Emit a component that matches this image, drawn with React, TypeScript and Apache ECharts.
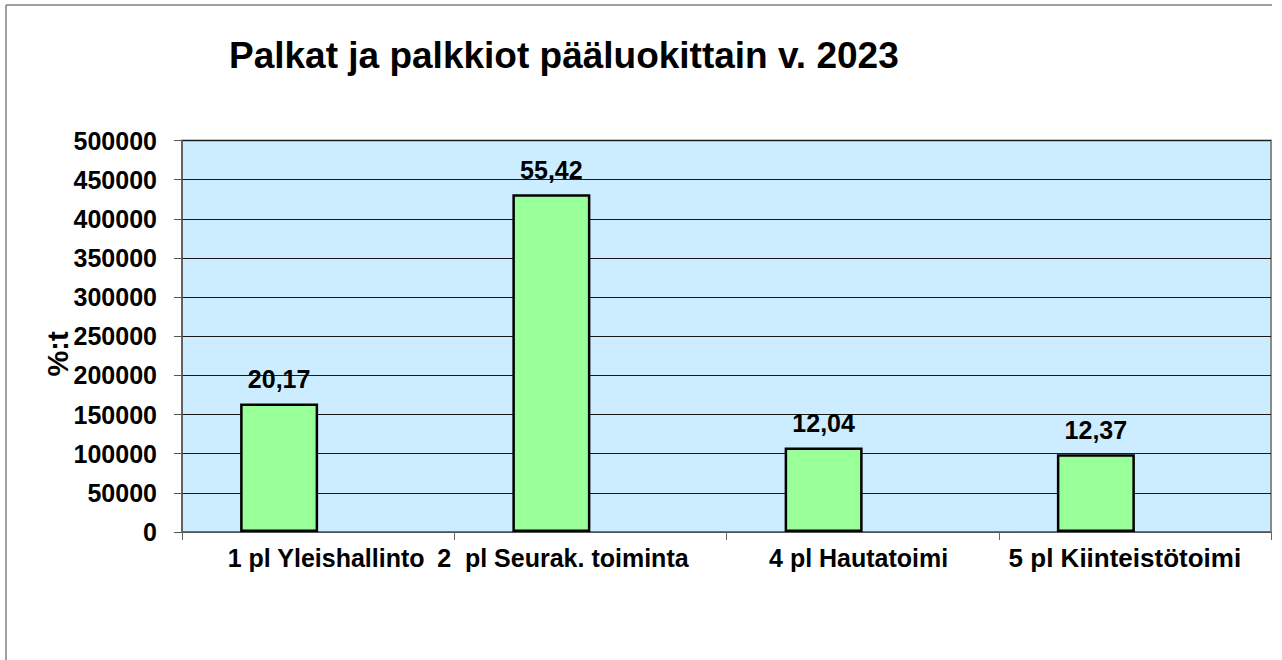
import React, { useEffect, useRef } from "react";
import * as echarts from "echarts";

const categories = [
  "1 pl Yleishallinto",
  "2  pl Seurak. toiminta",
  "4 pl Hautatoimi",
  "5 pl Kiinteistötoimi",
];
const salaries = [164000, 431400, 107800, 99300];
const percentLabels = ["20,17", "55,42", "12,04", "12,37"];
const emptySeries: (number | null)[] = [null, null, null, null];
const yMin = 0;
const yMax = 500000;
const yInterval = 50000;
const titleText = "Palkat ja palkkiot pääluokittain v. 2023";
const yAxisTitle = "%:t";

const FONT = "'Liberation Sans', Arial, sans-serif";

export default function App() {
  const ref = useRef<HTMLDivElement>(null);
  useEffect(() => {
    if (!ref.current) return;
    const chart = echarts.init(ref.current, null, { renderer: "svg" });
    const lbl = { fontFamily: FONT, fontSize: 25, fontWeight: "bold", color: "#000" };
    chart.setOption({
      animation: false,
      backgroundColor: "#ffffff",
      title: {
        text: titleText,
        left: 229,
        top: 37,
        padding: 0,
        textStyle: { fontFamily: FONT, fontSize: 37, fontWeight: "bold", color: "#000" },
      },
      graphic: [
        {
          type: "line",
          shape: { x1: 6, y1: 5, x2: 1272, y2: 5 },
          style: { stroke: "#808080", lineWidth: 1.5 },
        },
        {
          type: "line",
          shape: { x1: 6, y1: 5, x2: 6, y2: 660 },
          style: { stroke: "#808080", lineWidth: 1.5 },
        },
        {
          type: "text",
          x: 58,
          y: 354,
          rotation: Math.PI / 2,
          style: {
            text: yAxisTitle,
            fontFamily: FONT,
            fontSize: 29,
            fontWeight: "bold",
            fill: "#000",
            align: "center",
            verticalAlign: "middle",
          },
        },
      ],
      grid: {
        left: 182,
        right: 11,
        top: 140.5,
        bottom: 128,
        show: true,
        backgroundColor: "#CCECFF",
        borderColor: "#8a8a8a",
        borderWidth: 2,
      },
      xAxis: {
        type: "category",
        data: categories,
        axisLine: { lineStyle: { color: "#666", width: 1.5 } },
        axisTick: { show: true, alignWithLabel: false, interval: 0, length: 8, lineStyle: { color: "#666" } },
        axisLabel: {
          interval: 0,
          margin: 13,
          ...lbl,
          formatter: (v: string, i: number) => `{l${i}|${v}}`,
          rich: {
            l0: { padding: [0, 0, 0, 16], ...lbl },
            l1: { padding: [0, 55, 0, 0], ...lbl },
            l2: { padding: [0, 8, 0, 0], ...lbl },
            l3: { padding: [0, 20, 0, 0], ...lbl, fontSize: 26 },
          },
        },
      },
      yAxis: {
        type: "value",
        min: yMin,
        max: yMax,
        interval: yInterval,
        axisLine: { show: true, lineStyle: { color: "#555", width: 1.5 } },
        axisTick: { show: true, length: 8, lineStyle: { color: "#555" } },
        splitLine: { show: true, lineStyle: { color: "#1a1a1a", width: 1 } },
        axisLabel: {
          margin: 25,
          ...lbl,
          formatter: (v: number) => String(v),
        },
      },
      series: [
        {
          type: "bar",
          data: salaries,
          barWidth: 78,
          barGap: "0%",
          itemStyle: { color: "#99FF99", borderColor: "#000", borderWidth: 2.5 },
          label: {
            show: true,
            position: "top",
            distance: 12,
            ...lbl,
            formatter: (p: any) => percentLabels[p.dataIndex],
          },
        },
        {
          type: "bar",
          data: emptySeries,
          barWidth: 78,
          barGap: "0%",
          itemStyle: { color: "#9999FF" },
        },
      ],
    });
    return () => chart.dispose();
  }, []);
  return (
    <div
      ref={ref}
      style={{ position: "absolute", left: 0, top: 0, width: 1282, height: 660 }}
    />
  );
}
